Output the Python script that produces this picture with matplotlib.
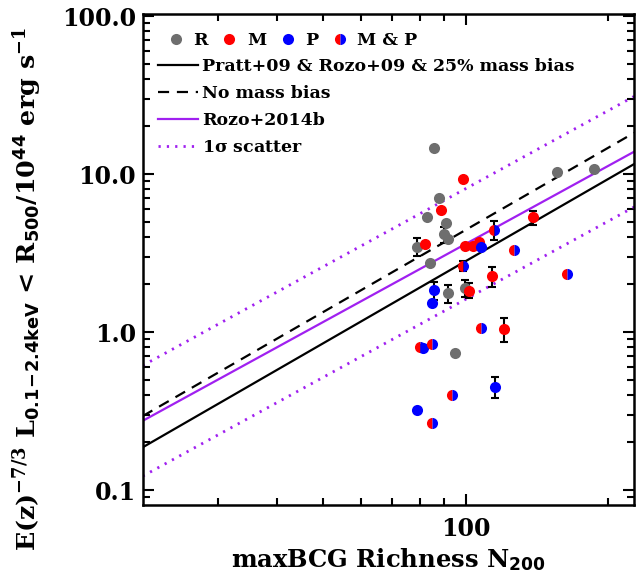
import numpy as np
from matplotlib import pyplot as plt
from matplotlib.lines import Line2D

# ---- data ----
# R : grey
r_x = [85.8, 87.7, 82.9, 90.8, 89.8, 91.8, 79.0, 83.9, 91.8, 99.4, 94.8, 155.7, 186.9]
r_y = [14.55, 7.02, 5.37, 4.92, 4.15, 3.88, 3.47, 2.72, 1.76, 1.91, 0.733, 10.25, 10.75]
r_err = [0, 0, 0, 0, 0.49, 0, 0.46, 0, 0.235, 0.235, 0, 0, 0]

# M : red
m_x = [98.7, 88.7, 81.9, 99.5, 103.4, 106.5, 113.6, 101.5, 120.5, 139.0]
m_y = [9.26, 5.92, 3.59, 3.52, 3.52, 3.70, 2.26, 1.83, 1.04, 5.32]
m_err = [0, 0, 0, 0, 0, 0, 0.32, 0.20, 0.18, 0.54]

# P : blue
p_x = [107.9, 85.6, 84.9, 81.2, 115.5, 79.0]
p_y = [3.44, 1.84, 1.52, 0.789, 0.451, 0.321]
p_err = [0, 0.24, 0, 0, 0.069, 0]

# M & P : half red / half blue
mp_x = [114.5, 98.7, 126.2, 163.7, 107.7, 79.9, 84.9, 93.6, 84.9]
mp_y = [4.42, 2.63, 3.30, 2.33, 1.06, 0.807, 0.840, 0.397, 0.264]
mp_err = [0.60, 0.20, 0, 0, 0, 0, 0, 0, 0]

# relations  L = norm * (N200/100)^slope
pratt_norm, pratt_slope = 2.81, 1.726      # Pratt+09 & Rozo+09 & 25% mass bias
nobias_norm = 4.43                         # no mass bias, same slope
rozo_norm, rozo_slope = 3.61, 1.64         # Rozo+2014b
scatter_dex = 0.35                         # 1 sigma

xlim = (20.76, 226.9)
ylim = (0.0804, 102.9)

plt.rcParams['font.family'] = 'DejaVu Serif'
plt.rcParams['font.weight'] = 'bold'
plt.rcParams['axes.labelweight'] = 'bold'
plt.rcParams['mathtext.fontset'] = 'dejavuserif'
plt.rcParams['mathtext.default'] = 'bf'

fig = plt.figure(figsize=(6.36, 5.85), dpi=100)
ax = fig.add_axes([0.2244, 0.1368, 0.7726, 0.8392])
ax.set_xscale('log')
ax.set_yscale('log')

xx = np.array(xlim)
ax.plot(xx, pratt_norm * (xx / 100) ** pratt_slope, color='black', lw=1.6)
ax.plot(xx, nobias_norm * (xx / 100) ** pratt_slope, color='black', lw=1.6, dashes=(5, 3.5))
ax.plot(xx, rozo_norm * (xx / 100) ** rozo_slope, color='#a020f0', lw=1.6)
ax.plot(xx, rozo_norm * 10 ** scatter_dex * (xx / 100) ** rozo_slope, color='#a020f0', lw=2, ls=(0, (0.8, 2.2)))
ax.plot(xx, rozo_norm / 10 ** scatter_dex * (xx / 100) ** rozo_slope, color='#a020f0', lw=2, ls=(0, (0.8, 2.2)))


def errs(x, y, e):
    # only draw the bars that exist
    xs = [a for a, b in zip(x, e) if b > 0]
    ys = [a for a, b in zip(y, e) if b > 0]
    es = [b for b in e if b > 0]
    ax.errorbar(xs, ys, yerr=es, fmt='none', ecolor='black', elinewidth=1.5, capsize=3, capthick=1.5, zorder=3)


ms = 8
for x, y, e in [(r_x, r_y, r_err), (m_x, m_y, m_err), (p_x, p_y, p_err), (mp_x, mp_y, mp_err)]:
    errs(x, y, e)
ax.plot(r_x, r_y, 'o', color='#6e6e6e', ms=ms, mec='none', zorder=4)
ax.plot(m_x, m_y, 'o', color='red', ms=ms, mec='none', zorder=4)
ax.plot(p_x, p_y, 'o', color='blue', ms=ms, mec='none', zorder=4)
ax.plot(mp_x, mp_y, 'o', ls='', ms=ms, mfc='red', mfcalt='blue', fillstyle='left', mec='none', zorder=4)

ax.set_xlim(xlim)
ax.set_ylim(ylim)

ax.set_yticks([0.1, 1, 10, 100])
ax.set_yticklabels(['0.1', '1.0', '10.0', '100.0'])
ax.set_xticks([100])
ax.set_xticklabels(['100'])
ax.xaxis.set_minor_formatter(plt.NullFormatter())
ax.tick_params(which='both', direction='in', top=True, right=True, width=1.5, labelsize=17)
ax.tick_params(which='major', length=8)
ax.tick_params(which='minor', length=5)
ax.tick_params(axis='x', pad=9)
ax.tick_params(axis='y', pad=5)
for s in ax.spines.values():
    s.set_linewidth(1.8)

ax.set_xlabel(r'maxBCG Richness N$_{\mathsf{200}}$', fontsize=17.5, labelpad=3)
ax.set_ylabel(r'E(z)$^{-7/3}$ L$_{\mathsf{0.1\!-\!2.4keV}}$ < R$_{\mathsf{500}}$/10$^{\mathsf{44}}$ erg s$^{-1}$',
              fontsize=18.3)
ax.yaxis.set_label_coords(-0.2, 0.44)

# legend: symbols on one row, lines below
sym = [Line2D([], [], marker='o', ls='', color='#6e6e6e', mec='none', ms=ms),
       Line2D([], [], marker='o', ls='', color='red', mec='none', ms=ms),
       Line2D([], [], marker='o', ls='', color='blue', mec='none', ms=ms),
       Line2D([], [], marker='o', ls='', mfc='red', mfcalt='blue', fillstyle='left', mec='none', ms=ms)]
leg1 = ax.legend(sym, ['R', 'M', 'P', 'M & P'], ncol=4, loc='upper left', frameon=False, fontsize=12.5,
                 handlelength=1.0, handletextpad=0.5, columnspacing=0.75, bbox_to_anchor=(0.018, 0.995))
ax.add_artist(leg1)
lns = [Line2D([], [], color='black', lw=1.6),
       Line2D([], [], color='black', lw=1.6, dashes=(5, 3.5)),
       Line2D([], [], color='#a020f0', lw=1.6),
       Line2D([], [], color='#a020f0', lw=2, ls=(0, (0.8, 2.2)))]
ax.legend(lns, ['Pratt+09 & Rozo+09 & 25% mass bias', 'No mass bias', 'Rozo+2014b', r'1$\sigma$ scatter'],
          loc='upper left', frameon=False, fontsize=12.5, handlelength=2.3, handletextpad=0.2,
          labelspacing=0.58, bbox_to_anchor=(0.0, 0.942))

plt.savefig('out.png', dpi=100)
